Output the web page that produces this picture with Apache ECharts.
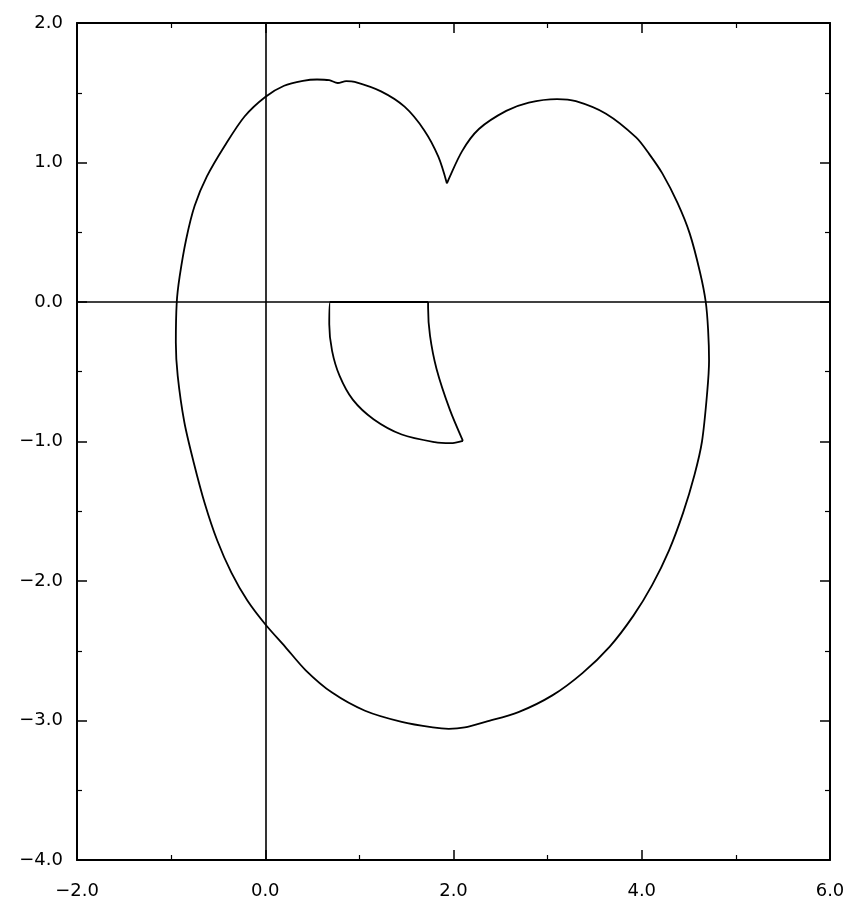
<!DOCTYPE html>
<html>
<head>
<meta charset="utf-8">
<script src="https://cdn.jsdelivr.net/npm/echarts@6/dist/echarts.min.js"></script>
<style>
  html, body { margin: 0; padding: 0; background: #ffffff; }
  #chart { width: 849px; height: 910px; }
</style>
</head>
<body>
<div id="chart"></div>
<script>
// Axis ranges and tick spacing
const xRange = [-2, 6];
const yRange = [-4, 2];
const xMajorStep = 2;
const yMajorStep = 1;

// Outer heart-shaped loop, traced from the cusp over the left lobe,
// down the left side, across the bottom, up the right side and back.
const outerLoop = [
  [1.93, 0.85], [1.84, 1.04], [1.69, 1.23], [1.48, 1.40], [1.23, 1.51],
  [0.95, 1.578], [0.86, 1.583], [0.77, 1.57], [0.68, 1.59], [0.55, 1.595],
  [0.40, 1.585], [0.20, 1.55], [0.00, 1.47], [-0.22, 1.33], [-0.43, 1.12],
  [-0.62, 0.90], [-0.75, 0.69], [-0.84, 0.45], [-0.91, 0.18], [-0.94, 0.00],
  [-0.95, -0.29], [-0.93, -0.53], [-0.86, -0.86], [-0.76, -1.15], [-0.64, -1.45],
  [-0.51, -1.71], [-0.36, -1.94], [-0.19, -2.14], [0.00, -2.31], [0.21, -2.47],
  [0.43, -2.64], [0.71, -2.80], [1.06, -2.93], [1.45, -3.01], [1.78, -3.05],
  [1.95, -3.06], [2.12, -3.05], [2.34, -3.01], [2.69, -2.94], [3.05, -2.82],
  [3.37, -2.66], [3.66, -2.47], [3.91, -2.25], [4.11, -2.03], [4.29, -1.78],
  [4.44, -1.51], [4.56, -1.24], [4.64, -1.00], [4.695, -0.65], [4.715, -0.42],
  [4.705, -0.20], [4.68, 0.00], [4.62, 0.21], [4.51, 0.49], [4.38, 0.71],
  [4.22, 0.92], [4.08, 1.06], [3.94, 1.18], [3.62, 1.35], [3.30, 1.44],
  [3.10, 1.455], [2.80, 1.43], [2.56, 1.37], [2.27, 1.24], [2.09, 1.08],
  [1.93, 0.85]
];

// Inner fan: top edge along y = 0, then the left edge down to the tip
const innerLeftEdge = [
  [1.73, 0.00], [0.69, 0.00], [0.68, -0.16], [0.71, -0.35], [0.79, -0.53],
  [0.93, -0.70], [1.15, -0.84], [1.45, -0.95], [1.80, -1.005], [1.97, -1.012],
  [2.10, -0.995]
];

// Inner fan: right edge from the tip back up to y = 0
const innerRightEdge = [
  [2.10, -0.995], [1.96, -0.77], [1.82, -0.48], [1.75, -0.24], [1.73, -0.04], [1.73, 0.00]
];

const ink = '#000000';
const labelFont = '"DejaVu Sans", "Liberation Sans", sans-serif';

function fmtTick(v) {
  const s = Math.abs(v).toFixed(1);
  return v < 0 ? '\u2212' + s : s;
}

function makeXAxis(position, showLabels) {
  return {
    type: 'value', position: position,
    min: xRange[0], max: xRange[1], interval: xMajorStep,
    axisLine: { show: true, onZero: false, lineStyle: { color: ink, width: 2 } },
    axisTick: { show: true, inside: true, length: 10, lineStyle: { color: ink, width: 1.5 } },
    minorTick: { show: true, splitNumber: 2, length: 5, lineStyle: { color: ink, width: 1.2 } },
    axisLabel: {
      show: showLabels, margin: 22, color: ink, fontSize: 18,
      fontFamily: labelFont, formatter: fmtTick
    },
    splitLine: { show: false }, minorSplitLine: { show: false }
  };
}

function makeYAxis(position, showLabels) {
  return {
    type: 'value', position: position,
    min: yRange[0], max: yRange[1], interval: yMajorStep,
    axisLine: { show: true, onZero: false, lineStyle: { color: ink, width: 2 } },
    axisTick: { show: true, inside: true, length: 10, lineStyle: { color: ink, width: 1.5 } },
    minorTick: { show: true, splitNumber: 2, length: 5, lineStyle: { color: ink, width: 1.2 } },
    axisLabel: {
      show: showLabels, margin: 14, color: ink, fontSize: 18,
      fontFamily: labelFont, formatter: fmtTick
    },
    splitLine: { show: false }, minorSplitLine: { show: false }
  };
}

function curveSeries(name, data, extra) {
  return Object.assign({
    name: name, type: 'line', data: data,
    xAxisIndex: 0, yAxisIndex: 0,
    showSymbol: false, symbol: 'none', smooth: 0.3,
    lineStyle: { color: ink, width: 1.8 },
    silent: true, animation: false, z: 3
  }, extra || {});
}

const chart = echarts.init(document.getElementById('chart'), null, { renderer: 'canvas' });
chart.setOption({
  backgroundColor: '#ffffff',
  animation: false,
  grid: { left: 77, right: 19, top: 23, bottom: 50, containLabel: false },
  xAxis: [makeXAxis('bottom', true), makeXAxis('top', false)],
  yAxis: [makeYAxis('left', true), makeYAxis('right', false)],
  series: [
    curveSeries('outer', outerLoop, {
      markLine: {
        silent: true, symbol: 'none', animation: false,
        label: { show: false },
        lineStyle: { color: ink, width: 1.6, type: 'solid' },
        data: [{ xAxis: 0 }, { yAxis: 0 }]
      }
    }),
    curveSeries('innerLeft', innerLeftEdge),
    curveSeries('innerRight', innerRightEdge)
  ]
});
</script>
</body>
</html>
